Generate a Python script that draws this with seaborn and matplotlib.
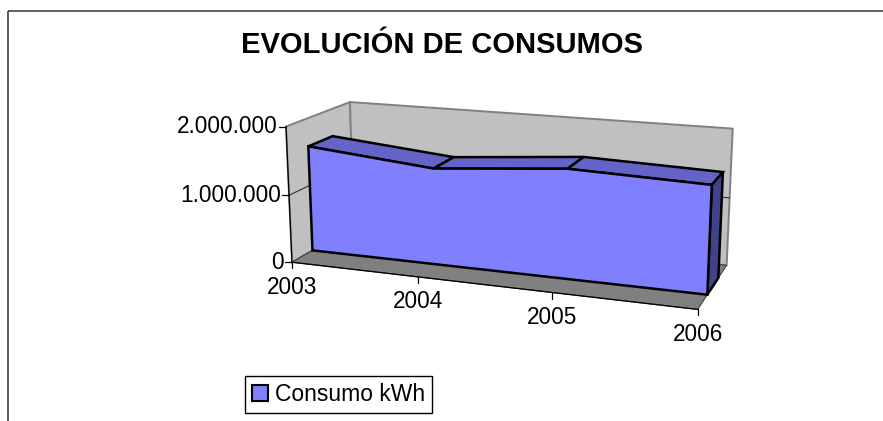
import numpy as np
import matplotlib
matplotlib.use("Agg")
import matplotlib.pyplot as plt
import seaborn as sns
from matplotlib.patches import Polygon, Rectangle, Patch

# ---- data ----
years = ["2003", "2004", "2005", "2006"]
consumo = [1_585_000, 1_414_000, 1_572_000, 1_516_000]
value_ticks = [0, 1_000_000, 2_000_000]
value_labels = ["0", "1.000.000", "2.000.000"]
title = "EVOLUCIÓN DE CONSUMOS"
series = "Consumo kWh"

# ---- 3-D view (Excel-like: rotation ~20°, elevation ~15°, perspective) ----
ROT = np.deg2rad(19.9)
ELEV = np.deg2rad(14.7)
BOX_H, BOX_D = 0.337, 0.336        # height / depth relative to width
DIST = 3.12                        # perspective distance
SCALE, CX, CY = 417.75, 508.5, 196.6
DEPTH_FRONT, DEPTH_BACK = 0.311, 0.693   # series slab within the depth


def project(X, Y, Z):
    """X: category index, Y: value, Z: depth 0..1 -> pixel coordinates."""
    u = np.asarray(X, float)/(len(years) - 1) - 0.5
    v = (np.asarray(Y, float)/value_ticks[-1] - 0.5)*BOX_H
    w = (np.asarray(Z, float) - 0.5)*BOX_D
    x1 = u*np.cos(ROT) + w*np.sin(ROT)
    z1 = -u*np.sin(ROT) + w*np.cos(ROT)
    y2 = v*np.cos(ELEV) + z1*np.sin(ELEV)
    z2 = z1*np.cos(ELEV) - v*np.sin(ELEV)
    f = 1.0/(1.0 + z2/DIST)
    return float(CX + SCALE*x1*f), float(CY - SCALE*y2*f)


P = project

sns.set_theme(style="white")
plt.rcParams['font.family'] = ['Liberation Sans', 'DejaVu Sans']
plt.rcParams['text.color'] = 'black'

fig = plt.figure(figsize=(8.83, 4.21), dpi=100)
ax = fig.add_axes([0, 0, 1, 1])


def poly(pts, fc, ec, lw, z):
    ax.add_patch(Polygon(pts, closed=True, facecolor=fc, edgecolor=ec, lw=lw,
                         joinstyle='miter', zorder=z))


n = len(years) - 1
top = value_ticks[-1]
# walls and floor
poly([P(0, 0, 0), P(0, top, 0), P(0, top, 1), P(0, 0, 1)], '#C0C0C0', '#808080', 1.4, 1)
poly([P(0, 0, 1), P(n, 0, 1), P(n, top, 1), P(0, top, 1)], '#C0C0C0', '#808080', 1.4, 1)
poly([P(0, 0, 0), P(n, 0, 0), P(n, 0, 1), P(0, 0, 1)], '#808080', '#404040', 0.8, 2)
# gridlines
for t in value_ticks[1:-1]:
    pts = [P(0, t, 0), P(0, t, 1), P(n, t, 1)]
    sns.lineplot(x=[q[0] for q in pts], y=[q[1] for q in pts], sort=False, estimator=None,
                 color='#303030', lw=0.8, ax=ax, zorder=2, legend=False)
# axis lines
a0, a1, b1 = P(0, 0, 0), P(0, top, 0), P(n, 0, 0)
ax.plot([a0[0], a1[0]], [a0[1], a1[1]], color='black', lw=0.9, zorder=3)
ax.plot([a0[0], b1[0]], [a0[1], b1[1]], color='black', lw=0.9, zorder=3)
for t, lab in zip(value_ticks, value_labels):
    x0, y0 = P(0, t, 0)
    ax.plot([x0 - 7, x0], [y0, y0], color='black', lw=0.9, zorder=3)
    ax.text(x0 - 8, y0, lab, ha='right', va='center', fontsize=16.3, color='black')
for i, yr in enumerate(years):
    x0, y0 = P(i, 0, 0)
    ax.plot([x0, x0], [y0, y0 + 6], color='black', lw=0.9, zorder=3)
    ax.text(x0, y0 + 25, yr, ha='center', va='center', fontsize=16.3, color='black')

# 3-D area slab
zf, zb = DEPTH_FRONT, DEPTH_BACK
for i in range(n):
    q = [P(i, consumo[i], zf), P(i + 1, consumo[i + 1], zf),
         P(i + 1, consumo[i + 1], zb), P(i, consumo[i], zb)]
    poly(q, '#6464C8', 'black', 1.8, 4)
poly([P(n, 0, zf), P(n, consumo[n], zf), P(n, consumo[n], zb), P(n, 0, zb)],
     '#42428A', 'black', 1.8, 4)
front = [P(i, v, zf) for i, v in enumerate(consumo)] + [P(n, 0, zf), P(0, 0, zf)]
poly(front, '#8080FF', 'black', 1.8, 5)

# chart border, title, legend
ax.add_patch(Rectangle((8.3, 10.7), 1000, 1000, fill=False, edgecolor='#333333', lw=1.1, zorder=0))
ax.text(442, 45, title, ha='center', va='center', fontsize=21, fontweight='bold', color='black')

ax.legend(handles=[Patch(facecolor='#8080FF', edgecolor='black', lw=1.5, label=series)],
          loc='upper left', bbox_to_anchor=(245/883, 1 - 376/421), bbox_transform=fig.transFigure,
          frameon=True, fancybox=False, edgecolor='black', framealpha=1, borderaxespad=0,
          handlelength=0.7, handleheight=0.7, handletextpad=0.3, borderpad=0.3, fontsize=16.5)

ax.set_xlim(0, 883)
ax.set_ylim(421, 0)
ax.axis('off')
fig.savefig("out.png", dpi=100)
